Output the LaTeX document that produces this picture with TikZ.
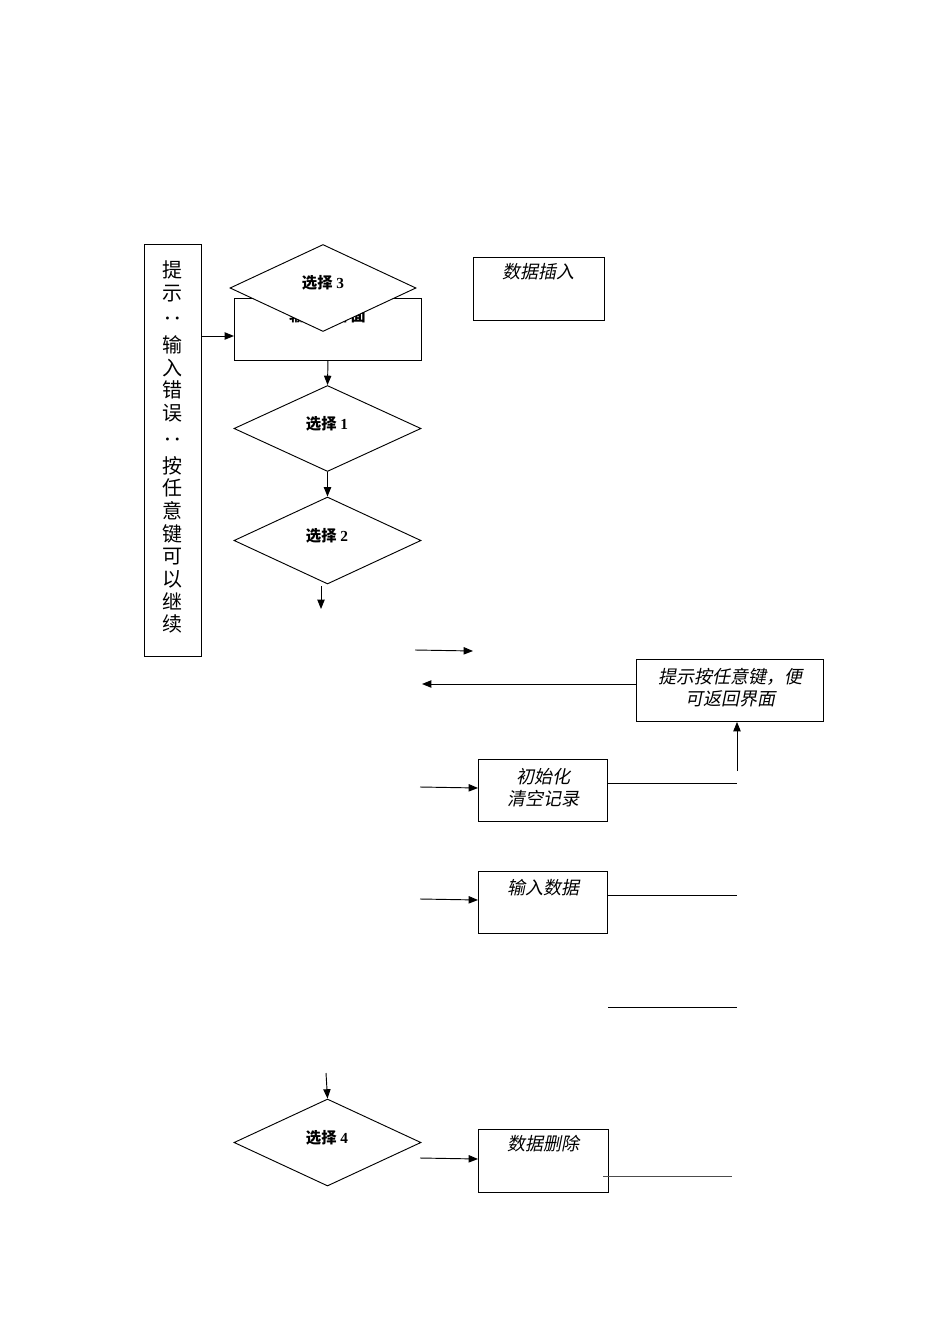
\documentclass[tikz,border=0pt]{standalone}
\usepackage{fontspec}
\usepackage{graphicx}
\setmainfont{Liberation Serif}
\newfontfamily\cjk{Noto Sans CJK SC}
\newfontfamily\cjkit[FakeSlant=0.2]{Noto Sans CJK SC}
\usetikzlibrary{shapes.geometric,arrows.meta}
\tikzset{
  boxnode/.style={draw, line width=0.7pt, rectangle, inner sep=0pt, anchor=north west},
  choice/.style={draw, line width=0.7pt, diamond, fill=white, inner sep=0pt},
  choicelabel/.style={inner sep=0pt, font=\fontsize{11.5}{13}\selectfont\bfseries},
  itlabel/.style={font=\cjkit\fontsize{13.5}{16.5}\selectfont, align=center, inner sep=0pt},
  conn/.style={line width=0.7pt, -{Triangle[length=7pt,width=5.5pt]}},
  plainline/.style={line width=0.7pt}
}
\newcommand{\vcolon}{\smash{\raisebox{-3pt}{\rotatebox[origin=c]{-90}{：}}}}
\newcommand{\vch}[1]{\smash{#1}}
\begin{document}
\begin{tikzpicture}[x=0.75pt,y=-0.75pt]
\useasboundingbox (0,0) rectangle (950,1344);

% vertical hint box
\node[boxnode, minimum width=57*0.75pt, minimum height=412*0.75pt] (vbox) at (144,244) {};
\node[inner sep=0pt] (vtext) at (172.5,450) {\cjk\fontsize{15}{17}\selectfont
  \begin{tabular}{@{}c@{}}\vch{提}\\\vch{示}\\[2.7pt]\vcolon\\[2.7pt]\vch{输}\\\vch{入}\\\vch{错}\\\vch{误}\\[2.7pt]\vcolon\\[2.7pt]\vch{按}\\\vch{任}\\\vch{意}\\\vch{键}\\\vch{可}\\\vch{以}\\\vch{继}\\\vch{续}\end{tabular}};

% main output box (partly hidden by choice 3)
\node[boxnode, minimum width=187*0.75pt, minimum height=62*0.75pt] (out) at (234,298) {};
\node[inner sep=0pt, font=\cjk\fontsize{11.5}{13}\selectfont\bfseries] (outt) at (327.5,316) {输出主界面};

% choices
\node[choice, minimum width=186*0.75pt, minimum height=87*0.75pt] (d3) at (323,288) {};
\node[choicelabel] (d3t) at (323,283) {{\cjk 选择} 3};
\node[choice, minimum width=187*0.75pt, minimum height=86*0.75pt] (d1) at (327.5,428.5) {};
\node[choicelabel] (d1t) at (327,424) {{\cjk 选择} 1};
\node[choice, minimum width=187*0.75pt, minimum height=87*0.75pt] (d2) at (327.5,540.5) {};
\node[choicelabel] (d2t) at (327,536) {{\cjk 选择} 2};
\node[choice, minimum width=187*0.75pt, minimum height=87*0.75pt] (d4) at (327.5,1142.5) {};
\node[choicelabel] (d4t) at (327,1138) {{\cjk 选择} 4};

% right boxes
\node[boxnode, minimum width=131*0.75pt, minimum height=63*0.75pt] (ins) at (473,257) {};
\node[itlabel] (inst) at (538.5,272) {数据插入};

\node[boxnode, minimum width=187*0.75pt, minimum height=62*0.75pt] (hint) at (636,659) {};
\node[itlabel] (hintt) at (730,688) {提示按任意键，便\\可返回界面};

\node[boxnode, minimum width=129*0.75pt, minimum height=62*0.75pt] (init) at (478,759) {};
\node[itlabel] (initt) at (543,788) {初始化\\清空记录};

\node[boxnode, minimum width=129*0.75pt, minimum height=62*0.75pt] (inp) at (478,871) {};
\node[itlabel] (inpt) at (543,888) {输入数据};

\node[boxnode, minimum width=130*0.75pt, minimum height=63*0.75pt] (del) at (478,1129) {};
\node[itlabel] (delt) at (543,1144) {数据删除};

% free-end coordinates
\coordinate (c2a) at (321,586);
\coordinate (c2b) at (321,609);
\coordinate (fa) at (415,650);
\coordinate (fb) at (473,651);
\coordinate (hl) at (422,684);
\coordinate (up) at (737,771);
\coordinate (ia) at (420,787);
\coordinate (ir) at (737,783);
\coordinate (na) at (420,899);
\coordinate (nr) at (737,895);
\coordinate (la) at (608,1007);
\coordinate (lb) at (737,1007);
\coordinate (d4a) at (326,1073);
\coordinate (ea) at (420,1158);
\coordinate (ra) at (603,1176);
\coordinate (rb) at (732,1176);

% connectors
\draw[conn] (vbox.east |- 0,336) -- (out.west |- 0,336);
\draw[conn] (out.south) -- (d1.north);
\draw[conn] (d1.south) -- (d2.north);
\draw[conn] (c2a) -- (c2b);
\draw[conn] (fa) -- (fb);
\draw[conn] (hint.west |- hl) -- (hl);
\draw[conn] (up) -- (up |- hint.south);
\draw[conn] (ia) -- (init.west |- 0,788);
\draw[plainline] (init.east |- ir) -- (ir);
\draw[conn] (na) -- (inp.west |- 0,900);
\draw[plainline] (inp.east |- nr) -- (nr);
\draw[plainline] (la) -- (lb);
\draw[conn] (d4a) -- (d4.north);
\draw[conn] (ea) -- (del.west |- 0,1159);
\draw[plainline, draw=black!70] (ra) -- (rb);
\end{tikzpicture}
\end{document}
